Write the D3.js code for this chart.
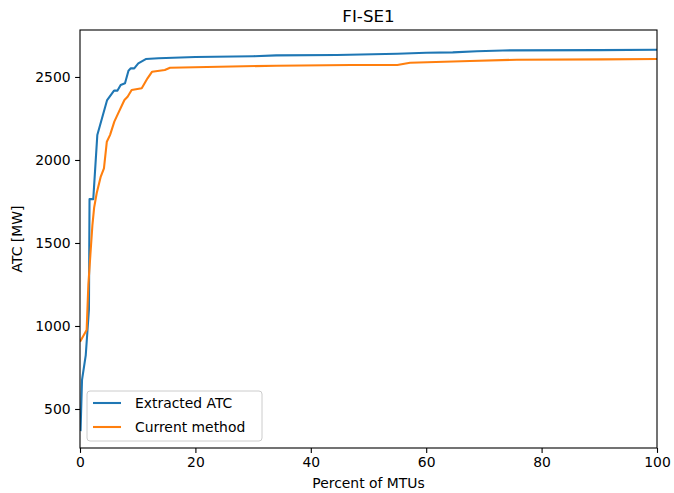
<!DOCTYPE html>
<html>
<head>
<meta charset="utf-8">
<script src="https://cdn.jsdelivr.net/npm/d3@7"></script>
<style>
html,body{margin:0;padding:0;background:#fff;}
text{font-family:"DejaVu Sans",sans-serif;fill:#000;}
</style>
</head>
<body>
<svg id="chart" width="674" height="493"></svg>
<script>
// Data
const title = "FI-SE1";
const xLabel = "Percent of MTUs";
const yLabel = "ATC [MW]";
const seriesNames = ["Extracted ATC", "Current method"];
const seriesColors = ["#1f77b4", "#ff7f0e"];

const extractedX = [0.1, 0.35, 1.0, 1.55, 1.65, 2.3, 3.0, 4.7, 5.9, 6.5, 7.05, 7.8, 8.4, 8.8, 9.4, 10.1, 11.4, 13.6, 20, 30, 34, 44.5, 55, 60, 64.6, 68.8, 73.3, 90, 100];
const extractedY = [373, 675, 825, 1100, 1764, 1764, 2150, 2361, 2418, 2418, 2452, 2462, 2538, 2552, 2552, 2582, 2608, 2613, 2620, 2625, 2630, 2632, 2640, 2646, 2648, 2655, 2660, 2662, 2664];

const currentX = [0.1, 1.15, 1.45, 2.15, 2.45, 2.9, 3.6, 4.15, 4.65, 5.2, 5.95, 6.35, 7.7, 8.25, 8.95, 10.7, 11.3, 11.7, 12.5, 14.7, 15.6, 34, 47, 55, 57.2, 67.6, 75.7, 90.6, 100];
const currentY = [911, 976, 1250, 1608, 1713, 1801, 1900, 1950, 2110, 2150, 2231, 2261, 2361, 2381, 2422, 2432, 2468, 2492, 2532, 2542, 2556, 2568, 2572, 2572, 2586, 2596, 2604, 2606, 2608];

const xTicks = [0, 20, 40, 60, 80, 100];
const yTicks = [500, 1000, 1500, 2000, 2500];

const svg = d3.select("#chart");
const L = 80, R = 657, T = 30, B = 448;

const x = d3.scaleLinear().domain([0, 100]).range([L, R]);
const y = d3.scaleLinear().domain([265, 2783]).range([B, T]);

const series = [
  {name: seriesNames[0], color: seriesColors[0], pts: extractedX.map((v, i) => [v, extractedY[i]])},
  {name: seriesNames[1], color: seriesColors[1], pts: currentX.map((v, i) => [v, currentY[i]])}
];

const line = d3.line().x(d => x(d[0])).y(d => y(d[1]));

svg.append("defs").append("clipPath").attr("id", "clip")
  .append("rect").attr("x", L).attr("y", T).attr("width", R - L).attr("height", B - T);

const g = svg.append("g").attr("clip-path", "url(#clip)");
series.forEach(s => {
  g.append("path").datum(s.pts)
    .attr("d", line)
    .attr("fill", "none")
    .attr("stroke", s.color)
    .attr("stroke-width", 2.08)
    .attr("stroke-linejoin", "round")
    .attr("stroke-linecap", "square");
});

// Axes
const xAxis = d3.axisBottom(x).tickValues(xTicks).tickSize(4.9).tickPadding(4.5).tickFormat(d3.format("d"));
const yAxis = d3.axisLeft(y).tickValues(yTicks).tickSize(4.9).tickPadding(4.5).tickFormat(d3.format("d"));

const gx = svg.append("g").attr("transform", `translate(0,${B})`).call(xAxis);
const gy = svg.append("g").attr("transform", `translate(${L},0)`).call(yAxis);
[gx, gy].forEach(a => {
  a.select(".domain").remove();
  a.selectAll("line").attr("stroke", "#000").attr("stroke-width", 1.1);
  a.selectAll("text").attr("font-size", "13.9px").attr("font-family", "DejaVu Sans").attr("fill", "#000");
});

// spines
svg.append("rect").attr("x", L).attr("y", T).attr("width", R - L).attr("height", B - T)
  .attr("fill", "none").attr("stroke", "#000").attr("stroke-width", 1.1);

// Title and labels
svg.append("text").attr("x", (L + R) / 2).attr("y", 22).attr("text-anchor", "middle")
  .attr("font-size", "16.7px").text(title);
svg.append("text").attr("x", (L + R) / 2).attr("y", 488).attr("text-anchor", "middle")
  .attr("font-size", "13.9px").text(xLabel);
svg.append("text").attr("transform", `translate(22,${(T + B) / 2}) rotate(-90)`)
  .attr("text-anchor", "middle").attr("font-size", "13.9px").text(yLabel);

// Legend
const lg = svg.append("g");
lg.append("rect").attr("x", 87).attr("y", 391).attr("width", 175).attr("height", 50)
  .attr("rx", 3).attr("fill", "#fff").attr("fill-opacity", 0.8)
  .attr("stroke", "#ccc").attr("stroke-width", 1);
series.forEach((s, i) => {
  const yy = 403 + i * 24;
  lg.append("line").attr("x1", 93).attr("x2", 121).attr("y1", yy).attr("y2", yy)
    .attr("stroke", s.color).attr("stroke-width", 2.08);
  lg.append("text").attr("x", 135).attr("y", yy + 5).attr("font-size", "13.9px").text(s.name);
});
</script>
</body>
</html>
